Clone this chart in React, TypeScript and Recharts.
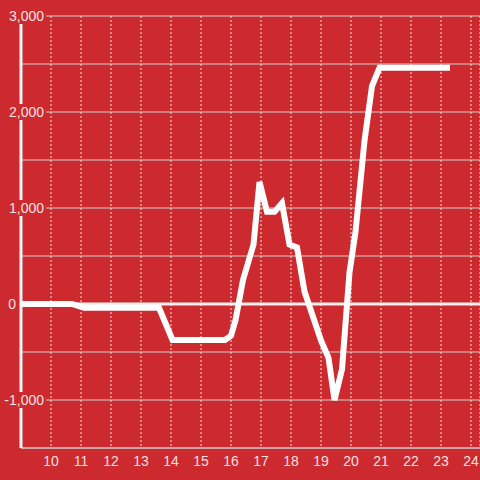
import { CartesianGrid, Line, LineChart, ReferenceLine, XAxis, YAxis } from 'recharts'

const BG = '#cc2a2f'
const TEXT = '#f6e0e1'
const FONT = '"Liberation Sans", Arial, sans-serif'

// hour of day (decimal) and running balance
const hours = [9, 10.7, 11.1, 13.6, 14.05, 15.8, 16.0, 16.15, 16.4, 16.75, 16.95, 17.2, 17.45, 17.7, 17.95, 18.2, 18.45, 19.0, 19.25, 19.45, 19.7, 19.95, 20.15, 20.45, 20.7, 20.95, 23.3]
const balance = [0, 0, -40, -40, -375, -375, -330, -170, 250, 620, 1270, 960, 960, 1050, 620, 590, 130, -380, -560, -1000, -680, 330, 750, 1700, 2270, 2460, 2460]

const xTicks = [10, 11, 12, 13, 14, 15, 16, 17, 18, 19, 20, 21, 22, 23, 24]
const yTicks = [-1500, -1000, -500, 0, 500, 1000, 1500, 2000, 2500, 3000]

const data = hours.map((h, i) => ({ h, v: balance[i] }))

function YTick(props: any) {
  const { y, payload } = props
  const v = payload.value as number
  if (v % 1000 !== 0) return null
  const label = v.toLocaleString('en-US')
  const right = v === 0 ? 16 : 44
  return (
    <g>
      <rect x={0} y={y - 8} width={right + 2} height={16} fill={BG} />
      <text x={right} y={y} dy={5} textAnchor="end" fill={TEXT} fontSize={14} fontFamily={FONT}>
        {label}
      </text>
    </g>
  )
}

export default function App() {
  return (
    <div style={{ position: 'absolute', left: 0, top: 0, width: 480, height: 480, background: BG }}>
      <LineChart width={480} height={480} data={data} margin={{ top: 16, right: 0, bottom: 0, left: 0 }}>
        <CartesianGrid vertical={false} stroke="#cfcfcf" strokeWidth={1} />
        <CartesianGrid horizontal={false} stroke="#e4e4e4" strokeDasharray="2 2" />
        <XAxis
          dataKey="h"
          type="number"
          domain={[9, 24.3]}
          ticks={xTicks}
          allowDataOverflow
          height={32}
          tickLine={false}
          axisLine={{ stroke: '#cfcfcf', strokeWidth: 1 }}
          tick={{ fill: TEXT, fontSize: 14, fontFamily: FONT }}
        />
        <YAxis
          type="number"
          domain={[-1500, 3000]}
          ticks={yTicks}
          width={21}
          tickLine={false}
          axisLine={{ stroke: '#f4f4f4', strokeWidth: 3 }}
          tick={<YTick />}
          interval={0}
        />
        <ReferenceLine y={0} stroke="#f0f0f0" strokeWidth={3} />
        <Line
          dataKey="v"
          type="linear"
          stroke="#ffffff"
          strokeWidth={6}
          dot={false}
          isAnimationActive={false}
        />
      </LineChart>
    </div>
  )
}
